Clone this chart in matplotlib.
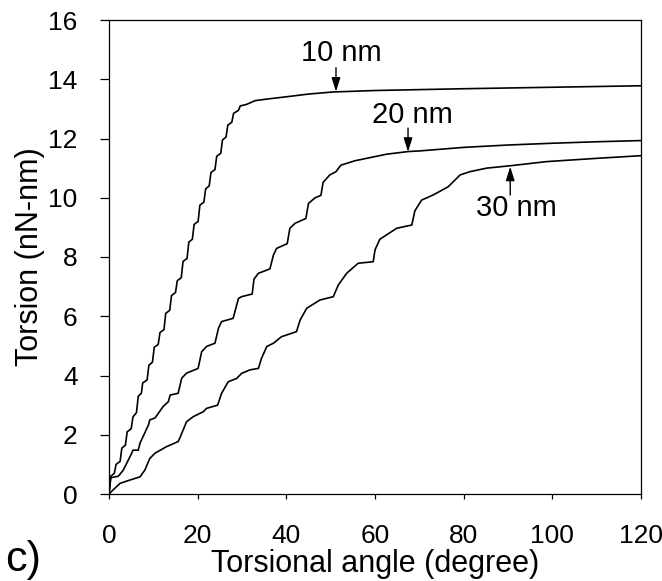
import matplotlib
matplotlib.use("Agg")
import matplotlib.pyplot as plt

plt.rcParams["font.family"] = ["Liberation Sans", "DejaVu Sans"]

# torsion vs torsional angle (degree, nN-nm)
x_10nm = [0, 0.4, 1.2, 1.6, 2.5, 2.9, 3.7, 4.1, 5.0, 5.4, 6.2, 6.6, 7.3, 7.6,
          8.6, 9.0, 9.8, 10.2, 11.1, 11.5, 12.4, 12.8, 13.7, 14.1, 15.0, 15.4,
          16.3, 16.7, 17.6, 18.0, 18.8, 19.2, 20.1, 20.5, 21.4, 21.8, 22.6, 23.0,
          23.9, 24.3, 25.2, 25.6, 26.4, 26.8, 27.7, 28.1, 29.2, 29.6, 31.0, 33.0,
          35.6, 40.1, 45.0, 50.5, 60.0, 70.0, 80.0, 100.0, 120.0]
y_10nm = [0, 0.6, 0.7, 1.0, 1.1, 1.55, 1.65, 2.1, 2.2, 2.6, 2.75, 3.3, 3.4, 3.75,
          3.85, 4.35, 4.45, 4.95, 5.05, 5.45, 5.55, 6.1, 6.2, 6.7, 6.8, 7.2,
          7.3, 7.85, 7.95, 8.5, 8.6, 9.1, 9.2, 9.75, 9.85, 10.3, 10.4, 10.85,
          10.95, 11.4, 11.5, 11.95, 12.05, 12.45, 12.55, 12.85, 12.95, 13.1, 13.15, 13.28,
          13.33, 13.41, 13.5, 13.57, 13.62, 13.65, 13.68, 13.73, 13.78]

x_20nm = [0, 0.4, 2.1, 3.2, 5.1, 5.4, 6.6, 7.0, 8.9, 9.2, 10.4, 12.2, 13.4, 13.8,
          15.6, 16.4, 17.5, 20.1, 20.9, 22.0, 23.9, 24.7, 25.4, 28.0, 29.2, 29.9,
          32.3, 32.7, 33.7, 36.3, 37.1, 37.8, 40.2, 40.8, 42.0, 44.4, 45.0, 46.5,
          47.8, 48.3, 49.8, 51.2, 52.3, 55.5, 58.1, 62.6, 67.5, 70.0, 80.0, 90.0,
          100.0, 110.0, 120.0]
y_20nm = [0, 0.55, 0.6, 0.8, 1.37, 1.48, 1.48, 1.72, 2.33, 2.5, 2.57, 2.95, 3.12, 3.34,
          3.4, 3.91, 4.08, 4.24, 4.8, 4.98, 5.09, 5.6, 5.82, 5.93, 6.6, 6.66,
          6.75, 7.25, 7.45, 7.6, 8.07, 8.29, 8.45, 8.97, 9.14, 9.3, 9.81, 10.0,
          10.08, 10.52, 10.77, 10.88, 11.1, 11.25, 11.33, 11.47, 11.56, 11.58, 11.7, 11.78,
          11.84, 11.89, 11.93]

x_30nm = [0, 1.0, 2.5, 4.7, 7.0, 8.1, 9.2, 10.4, 13.0, 15.6, 16.0, 17.5, 19.0,
          21.3, 22.0, 24.5, 25.4, 26.9, 28.8, 29.9, 31.8, 33.7, 34.4, 35.6, 37.1,
          38.9, 42.3, 43.1, 44.6, 47.6, 50.6, 51.7, 53.6, 56.2, 59.6, 60.0, 61.1,
          64.9, 68.3, 69.0, 70.5, 73.2, 76.5, 79.2, 81.4, 85.2, 90.5, 98.7, 110.0, 120.0]
y_30nm = [0, 0.15, 0.36, 0.47, 0.58, 0.81, 1.2, 1.38, 1.6, 1.77, 1.9, 2.44, 2.61,
          2.78, 2.89, 3.0, 3.4, 3.79, 3.9, 4.07, 4.19, 4.24, 4.58, 4.98, 5.09,
          5.31, 5.48, 5.87, 6.27, 6.55, 6.66, 7.05, 7.45, 7.79, 7.84, 8.24, 8.6,
          8.97, 9.08, 9.56, 9.92, 10.1, 10.37, 10.77, 10.88, 11.0, 11.08, 11.22, 11.33, 11.42]

# label text, arrow tail, arrow tip
notes = [
    ("10 nm", (52.4, 14.89), (51.2, 14.39), (51.2, 13.58)),
    ("20 nm", (68.4, 12.79), (67.45, 12.35), (67.45, 11.55)),
    ("30 nm", (92.0, 9.65), (90.5, 10.09), (90.5, 11.05)),
]

fig = plt.figure(figsize=(6.62, 5.81), dpi=100)
ax = fig.add_axes([109 / 662, 87 / 581, 532 / 662, 474 / 581])

for xs, ys in [(x_10nm, y_10nm), (x_20nm, y_20nm), (x_30nm, y_30nm)]:
    ax.plot(xs, ys, color="black", lw=1.2)

for txt, tpos, tail, tip in notes:
    ax.text(tpos[0], tpos[1], txt, ha="center", va="center", fontsize=21)
    ax.annotate("", xy=tip, xytext=tail,
                arrowprops=dict(arrowstyle="-|>,head_length=0.7,head_width=0.22",
                                color="black", lw=1, shrinkA=0, shrinkB=0,
                                mutation_scale=12))

ax.set_xlim(0, 120)
ax.set_ylim(0, 16)
ax.set_xticks(range(0, 121, 20))
ax.set_yticks(range(0, 17, 2))
ax.tick_params(axis="y", direction="out", length=6.5, width=0.9, pad=16, labelsize=19)
ax.tick_params(axis="x", direction="out", length=3.6, width=0.9, pad=18, labelsize=19)
for sp in ax.spines.values():
    sp.set_linewidth(0.9)

ax.set_xlabel("Torsional angle (degree)", fontsize=22)
ax.set_ylabel("Torsion (nN-nm)", fontsize=22)
ax.xaxis.set_label_coords(0.5, -0.115)
ax.yaxis.set_label_coords(-0.12, 0.5)

fig.text(23 / 662, 1 - 560 / 581, "c)", ha="center", va="center", fontsize=31)

fig.savefig("out.png", dpi=100)
